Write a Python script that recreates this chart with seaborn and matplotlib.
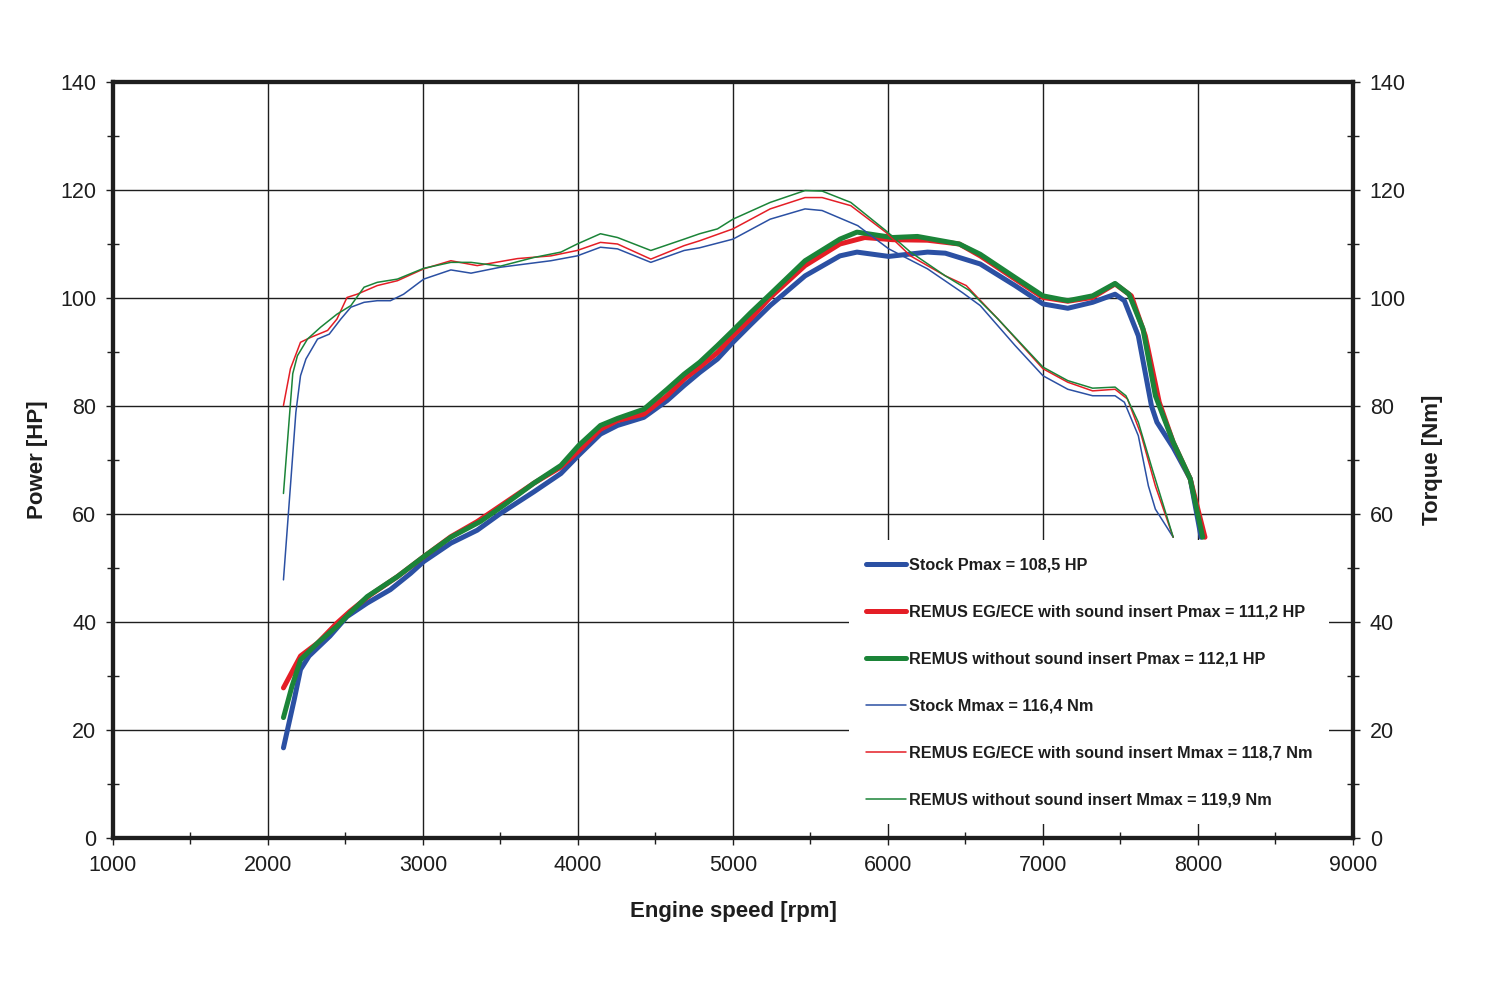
import numpy as np
import pandas as pd
import seaborn as sns
import matplotlib.pyplot as plt
from matplotlib.ticker import MultipleLocator

# power curves [HP]
rpm_p_stock = [2100, 2170, 2210, 2265, 2400, 2510, 2640, 2790, 2920, 3005, 3180, 3350, 3500, 3715, 3890,
               4005, 4145, 4255, 4425, 4575, 4685, 4785, 4900, 5000, 5115, 5240, 5465, 5690, 5800, 6005,
               6255, 6370, 6595, 6820, 7000, 7160, 7320, 7465, 7525, 7615, 7700, 7735, 7840, 7880, 7950, 8020]
p_stock = [16.7, 25.7, 31.2, 33.7, 37.4, 41.0, 43.5, 46.0, 49.0, 51.2, 54.6, 57.0, 60.1, 64.1, 67.5,
           70.9, 74.8, 76.4, 77.9, 81.0, 83.8, 86.2, 88.7, 91.8, 95.1, 98.6, 104.1, 107.8, 108.5, 107.7,
           108.5, 108.3, 106.3, 102.3, 98.9, 98.1, 99.2, 100.7, 99.5, 93.0, 80.0, 77.0, 72.3, 70.2, 66.5, 55.7]

rpm_p_eg = [2100, 2210, 2320, 2445, 2530, 2660, 2835, 3005, 3180, 3350, 3525, 3715, 3890, 4005, 4145,
            4255, 4425, 4575, 4685, 4785, 4900, 5000, 5115, 5240, 5465, 5690, 5850, 6030, 6255, 6460,
            6595, 6820, 7000, 7160, 7320, 7465, 7570, 7660, 7750, 7840, 7950, 8045]
p_eg = [27.8, 33.7, 36.1, 39.8, 42.0, 45.0, 48.4, 52.1, 55.8, 58.6, 62.0, 65.7, 68.7, 71.7, 75.7,
        77.3, 78.5, 81.9, 85.0, 87.2, 89.9, 93.0, 96.2, 100.1, 106.0, 110.0, 111.2, 110.8, 110.7, 110.0,
        107.8, 103.5, 100.1, 99.4, 100.1, 102.6, 100.4, 93.0, 80.7, 73.3, 66.5, 55.7]

rpm_p_wo = [2100, 2155, 2210, 2320, 2445, 2530, 2640, 2835, 3005, 3180, 3370, 3525, 3715, 3890, 4005,
            4145, 4255, 4425, 4575, 4685, 4785, 4900, 5000, 5115, 5240, 5465, 5690, 5800, 6030, 6190,
            6460, 6595, 6820, 7000, 7160, 7320, 7465, 7555, 7645, 7725, 7840, 7950, 8030]
p_wo = [22.3, 28.1, 33.0, 36.1, 39.2, 41.7, 44.7, 48.4, 52.1, 55.7, 58.6, 61.7, 65.7, 69.0, 72.7,
        76.4, 77.7, 79.4, 83.1, 85.9, 88.1, 91.2, 94.0, 97.3, 100.7, 106.9, 110.9, 112.2, 111.2, 111.4,
        110.0, 108.1, 103.8, 100.4, 99.5, 100.4, 102.7, 100.7, 94.3, 81.9, 73.3, 66.5, 55.7]

# torque curves [Nm]
rpm_m_stock = [2100, 2150, 2180, 2210, 2245, 2320, 2395, 2470, 2535, 2620, 2705, 2790, 2875, 3005, 3180,
               3310, 3500, 3825, 3995, 4145, 4255, 4470, 4685, 4785, 5000, 5240, 5465, 5575, 5805, 6005,
               6255, 6480, 6595, 6820, 7000, 7160, 7320, 7465, 7525, 7615, 7680, 7725, 7840]
m_stock = [47.8, 67.1, 78.8, 85.6, 88.7, 92.4, 93.3, 96.1, 98.3, 99.2, 99.5, 99.5, 100.7, 103.5, 105.2,
           104.6, 105.7, 106.9, 107.8, 109.4, 109.1, 106.6, 108.8, 109.3, 110.9, 114.6, 116.5, 116.2, 113.4, 109.1,
           105.4, 101.0, 98.6, 91.2, 85.6, 83.1, 81.9, 81.9, 80.7, 74.5, 65.2, 60.9, 55.7]

rpm_m_eg = [2100, 2145, 2210, 2275, 2385, 2445, 2510, 2575, 2705, 2835, 3005, 3180, 3350, 3610, 3825,
            3995, 4145, 4255, 4470, 4685, 4785, 5000, 5240, 5465, 5575, 5760, 5985, 6145, 6370, 6505,
            6710, 7000, 7160, 7320, 7465, 7545, 7635, 7725, 7840]
m_eg = [80.1, 86.9, 91.8, 92.7, 94.0, 96.1, 100.1, 100.7, 102.3, 103.2, 105.4, 106.9, 106.0, 107.3, 107.8,
        108.8, 110.3, 110.0, 107.2, 109.7, 110.6, 112.8, 116.5, 118.6, 118.6, 117.1, 112.2, 107.8, 104.1, 102.3,
        96.1, 86.9, 84.4, 82.8, 83.1, 81.3, 74.5, 65.2, 55.7]

rpm_m_wo = [2100, 2160, 2190, 2255, 2340, 2445, 2535, 2620, 2705, 2835, 3005, 3180, 3310, 3500, 3715,
            3890, 3995, 4145, 4255, 4470, 4685, 4785, 4900, 5000, 5240, 5465, 5575, 5760, 5985, 6145,
            6370, 6525, 6710, 7000, 7160, 7320, 7465, 7535, 7615, 7705, 7840]
m_wo = [63.8, 86.0, 89.3, 92.4, 94.6, 97.0, 98.6, 102.0, 102.9, 103.5, 105.5, 106.6, 106.6, 105.9, 107.5,
        108.5, 110.0, 111.9, 111.2, 108.8, 110.9, 111.9, 112.8, 114.6, 117.7, 119.9, 119.8, 117.7, 112.5, 108.5,
        104.1, 101.4, 96.1, 87.2, 84.7, 83.3, 83.5, 81.9, 77.0, 68.3, 55.7]

labels = ["Stock Pmax = 108,5 HP",
          "REMUS EG/ECE with sound insert Pmax = 111,2 HP",
          "REMUS without sound insert Pmax = 112,1 HP",
          "Stock Mmax = 116,4 Nm",
          "REMUS EG/ECE with sound insert Mmax = 118,7 Nm",
          "REMUS without sound insert Mmax = 119,9 Nm"]

BLUE, RED, GREEN = "#2b50a3", "#e41e26", "#1b8438"
INK = "#1e1e1e"

sns.set_theme(style="white")
plt.rcParams['font.family'] = ['Liberation Sans', 'DejaVu Sans']

fig = plt.figure(figsize=(15, 10), dpi=100)
ax = fig.add_axes([0.0753, 0.162, 0.8267, 0.756])
ax2 = ax.twinx()

power = [(rpm_p_stock, p_stock, BLUE), (rpm_p_eg, p_eg, RED), (rpm_p_wo, p_wo, GREEN)]
torque = [(rpm_m_stock, m_stock, BLUE), (rpm_m_eg, m_eg, RED), (rpm_m_wo, m_wo, GREEN)]

handles = []
for (x, y, c), lab in zip(power, labels[:3]):
    sns.lineplot(x=x, y=y, ax=ax, color=c, linewidth=3.6, sort=False, estimator=None)
    handles.append(plt.Line2D([], [], color=c, lw=3.6, label=lab))
for (x, y, c), lab in zip(torque, labels[3:]):
    sns.lineplot(x=x, y=y, ax=ax2, color=c, linewidth=1.1, sort=False, estimator=None)
    handles.append(plt.Line2D([], [], color=c, lw=1.1, label=lab))

for a in (ax, ax2):
    a.set_xlim(1000, 9000)
    a.set_ylim(0, 140)
    a.yaxis.set_major_locator(MultipleLocator(20))
    a.yaxis.set_minor_locator(MultipleLocator(10))
    for s in a.spines.values():
        s.set_linewidth(3)
        s.set_color(INK)
        s.set_visible(True)

ax.xaxis.set_major_locator(MultipleLocator(1000))
ax.xaxis.set_minor_locator(MultipleLocator(500))
ax.grid(True, which='major', color=INK, linewidth=1.0)
ax.set_axisbelow(True)

ax.tick_params(axis='both', which='major', direction='out', length=5, width=1, color=INK,
               labelsize=15.5, labelcolor=INK, pad=7, bottom=True, left=True, top=False, right=False)
ax.tick_params(axis='both', which='minor', direction='inout', length=8.5, width=1, color=INK,
               bottom=True, left=True, top=False, right=False)
ax2.tick_params(axis='y', which='major', direction='out', length=5, width=1, color=INK,
                labelsize=15.5, labelcolor=INK, pad=7, right=True)
ax2.tick_params(axis='y', which='minor', direction='inout', length=8.5, width=1, color=INK, right=True)
ax2.grid(False)

ax.set_xlabel("Engine speed [rpm]", fontsize=16, fontweight='bold', color=INK, labelpad=18)
ax.set_ylabel("Power [HP]", fontsize=16, fontweight='bold', color=INK, labelpad=9)
ax2.set_ylabel("Torque [Nm]", fontsize=16, fontweight='bold', color=INK, labelpad=12)

leg = ax2.legend(handles=handles, loc='upper left', bbox_to_anchor=(0.5935, 0.394),
                 frameon=True, fancybox=False, facecolor='white', edgecolor='none', framealpha=1,
                 prop={'weight': 'bold', 'size': 11.7}, handlelength=2.46, handletextpad=0.18,
                 labelspacing=1.97, borderpad=1.05, borderaxespad=0)
for t in leg.get_texts():
    t.set_color(INK)
leg.set_zorder(10)

fig.savefig("out.png", dpi=100, facecolor='white')
